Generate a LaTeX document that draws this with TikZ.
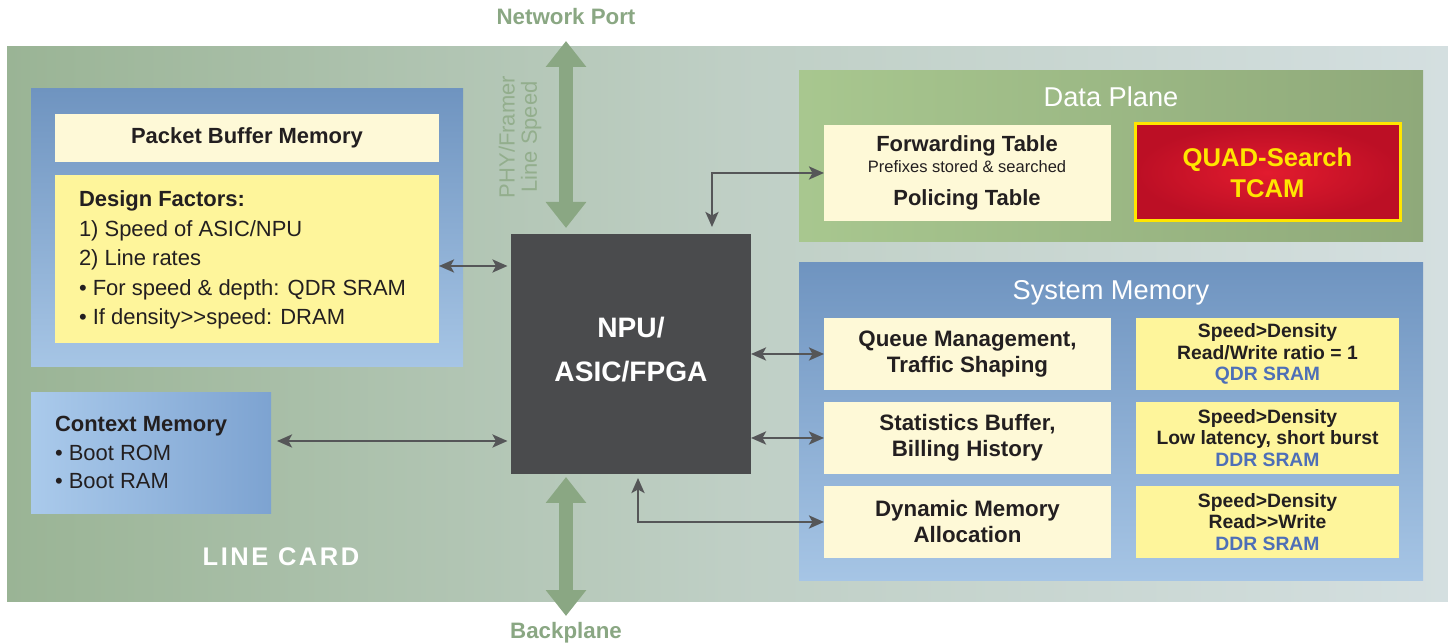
\documentclass[tikz,border=0pt]{standalone}
\usepackage{fontspec}
\setmainfont{Liberation Sans}
\usetikzlibrary{arrows.meta,fit}

\definecolor{cardgreen}{HTML}{9AB495}
\definecolor{cardmid}{HTML}{BFCFC5}
\definecolor{cardgray}{HTML}{D4DFE0}
\definecolor{portgreen}{HTML}{8AA783}
\definecolor{phygreen}{HTML}{93AE8D}
\definecolor{bluedark}{HTML}{6F94C0}
\definecolor{bluelight}{HTML}{A6C5E5}
\definecolor{ctxlight}{HTML}{AACAEB}
\definecolor{ctxdark}{HTML}{7DA3D1}
\definecolor{planelight}{HTML}{A8C78F}
\definecolor{planedark}{HTML}{8FA97A}
\definecolor{cream}{HTML}{FEF9D7}
\definecolor{lemon}{HTML}{FEF59B}
\definecolor{chip}{HTML}{4A4B4D}
\definecolor{wiregray}{HTML}{555658}
\definecolor{tcamred}{HTML}{E21B2E}
\definecolor{tcamdark}{HTML}{BC0F25}
\definecolor{tcamyellow}{HTML}{FFE600}
\definecolor{sramblue}{HTML}{4E6FB7}
\definecolor{ink}{HTML}{231F20}

\tikzset{
  block/.style={inner sep=0pt, outer sep=0pt},
  creambox/.style={block, fill=cream},
  lemonbox/.style={block, fill=lemon},
  txt/.style={inner sep=0pt, outer sep=0pt, text=ink, align=center},
  bodybold/.style={txt, font=\fontsize{12.5}{15}\selectfont\bfseries},
  bodyreg/.style={txt, font=\fontsize{12.5}{15}\selectfont},
  title/.style={txt, text=white, font=\fontsize{15.5}{18}\selectfont},
  tablefont/.style={txt, font=\fontsize{12.7}{14.8}\selectfont\bfseries},
  notefont/.style={txt, font=\fontsize{11}{12.2}\selectfont\bfseries},
  portname/.style={txt, text=portgreen, font=\fontsize{12.7}{15}\selectfont\bfseries},
  link/.style={draw=wiregray, line width=1.5pt,
    {Stealth[length=0.3cm,width=0.26cm,inset=0.07cm]}-{Stealth[length=0.3cm,width=0.26cm,inset=0.07cm]}},
  portarrow/.style={draw=portgreen, line width=0.28cm,
    {Triangle[length=0.52cm,width=0.78cm]}-{Triangle[length=0.52cm,width=0.78cm]}}
}

\begin{document}
\begin{tikzpicture}[x=0.02cm,y=-0.02cm]
  \useasboundingbox (0,0) rectangle (1448,644);

  % line card background
  \node[block, fit={(7,47) (1448,602)}, left color=cardgreen, right color=cardgray, middle color=cardmid] (card) {};
  \node[txt, text=white, font=\fontsize{14.5}{17}\selectfont\bfseries\addfontfeature{LetterSpace=10}] (cardname) at (281,557) {LINE CARD};

  % packet buffer memory
  \node[block, fit={(31,89) (463,367)}, top color=bluedark, bottom color=bluelight] (pbframe) {};
  \node[creambox, fit={(55,114) (439,162)}] (pbm) {};
  \node[bodybold] (pbmtxt) at (pbm.center) {Packet Buffer Memory};
  \node[lemonbox, fit={(55,175) (439,343)}] (design) {};
  \node[bodybold, anchor=base west] (dfhead) at (79,207) {Design Factors:};
  \foreach \txt [count=\i] in {1) Speed of ASIC/NPU, 2) Line rates, • For speed \& depth: QDR SRAM, • If density>\kern0pt>speed: DRAM}
    \node[bodyreg, anchor=base west] (df\i) at (79,207+29.5*\i) {\txt};

  % context memory
  \node[block, fit={(31,393) (271,514)}, left color=ctxlight, right color=ctxdark] (ctx) {};
  \node[bodybold, anchor=base west] (ctxhead) at (55,432) {Context Memory};
  \node[bodyreg, anchor=base west] (ctx1) at (55,461) {• Boot ROM};
  \node[bodyreg, anchor=base west] (ctx2) at (55,489) {• Boot RAM};

  % processor
  \node[block, fit={(511,234) (751,474)}, fill=chip] (npu) {};
  \node[txt, text=white, font=\fontsize{16}{19}\selectfont\bfseries, anchor=base] (npu1) at (631,338) {NPU/};
  \node[txt, text=white, font=\fontsize{16}{19}\selectfont\bfseries, anchor=base] (npu2) at (631,382) {ASIC/FPGA};

  % data plane
  \node[block, fit={(799,71) (1423,242)}, left color=planelight, right color=planedark] (dataplane) {};
  \node[title, anchor=base] (dptitle) at (1111,107) {Data Plane};
  \node[creambox, fit={(824,125) (1111,221)}] (fwd) {};
  \node[bodybold, anchor=base] (fwd1) at (967,152) {Forwarding Table};
  \node[txt, font=\fontsize{9.4}{11}\selectfont, anchor=base] (fwd2) at (967,173) {Prefixes stored \& searched};
  \node[bodybold, anchor=base] (fwd3) at (967,206) {Policing Table};
  \node[block, fit={(1135,124) (1400,221)}, draw=tcamyellow, line width=1.7pt, inner color=tcamred, outer color=tcamdark] (tcam) {};
  \node[txt, text=tcamyellow, font=\fontsize{14.6}{17.6}\selectfont\bfseries] (tcamtxt) at (tcam.center) {QUAD-Search\\TCAM};

  % system memory
  \node[block, fit={(799,263) (1423,581)}, top color=bluedark, bottom color=bluelight] (sysmem) {};
  \node[title, anchor=base] (smtitle) at (1111,300) {System Memory};
  \node[creambox, fit={(824,318) (1111,390)}] (queue) {};
  \node[creambox, fit={(824,402) (1111,474)}] (stats) {};
  \node[creambox, fit={(824,486) (1111,558)}] (dynmem) {};
  \node[lemonbox, fit={(1136,318) (1399,390)}] (qnote) {};
  \node[lemonbox, fit={(1136,402) (1399,474)}] (snote) {};
  \node[lemonbox, fit={(1136,486) (1399,558)}] (dnote) {};
  \node[tablefont] (queuetxt) at (queue.center) {Queue Management,\\Traffic Shaping};
  \node[tablefont] (statstxt) at (stats.center) {Statistics Buffer,\\Billing History};
  \node[tablefont] (dyntxt) at (dynmem.center) {Dynamic Memory\\Allocation};
  \node[notefont] (qnotetxt) at (qnote.center) {Speed>Density\\Read/Write ratio = 1\\\textcolor{sramblue}{QDR SRAM}};
  \node[notefont] (snotetxt) at (snote.center) {Speed>Density\\Low latency, short burst\\\textcolor{sramblue}{DDR SRAM}};
  \node[notefont] (dnotetxt) at (dnote.center) {Speed>Density\\Read>\kern0pt>Write\\\textcolor{sramblue}{DDR SRAM}};

  % ports
  \coordinate (portin) at (566,41);
  \coordinate (portout) at (566,616);
  \draw[portarrow, shorten >=0.12cm] (portin) -- (npu.north -| portin);
  \draw[portarrow, shorten <=0.06cm] (npu.south -| portin) -- (portout);
  \node[portname] (netport) at (566,17) {Network Port};
  \node[portname] (backplane) at (566,633) {Backplane};
  \node[txt, rotate=90, text=phygreen, font=\fontsize{12.5}{12.6}\selectfont] (phy) at (520,137) {PHY/Framer\\Line Speed};

  % links to the processor
  \draw[link, shorten >=0.07cm] ([yshift=-0.14cm]design.east) -- ([yshift=-0.14cm]design.east -| npu.west);
  \draw[link, shorten <=0.12cm, shorten >=0.07cm] ([yshift=0.25cm]ctx.east) -- ([yshift=0.25cm]ctx.east -| npu.west);
  \draw[link, shorten <=0.14cm] ([xshift=1.62cm]npu.north) |- (fwd.west);
  \draw[link] (npu.east |- queue.west) -- (queue.west);
  \draw[link] (npu.east |- stats.west) -- (stats.west);
  \draw[link, shorten <=0.08cm] ([xshift=0.14cm]npu.south) |- (dynmem.west);

\end{tikzpicture}
\end{document}
